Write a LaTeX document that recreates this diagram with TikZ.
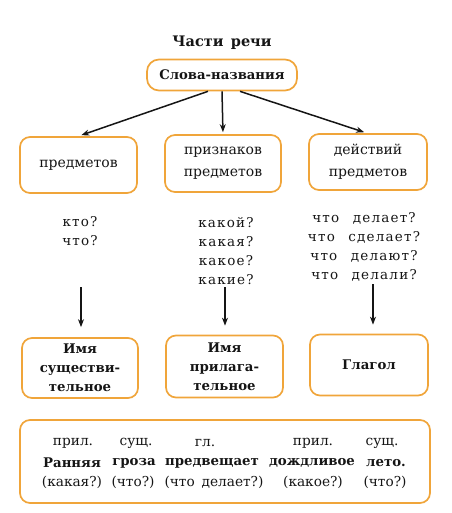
\documentclass[tikz,border=0pt]{standalone}
\usepackage{fontspec}
\setmainfont{DejaVu Serif}
\newfontfamily\spacedfont[LetterSpace=9]{DejaVu Serif}
\usetikzlibrary{arrows.meta}
\definecolor{frame}{HTML}{F0A53A}
\definecolor{ink}{HTML}{151515}
\tikzset{
  box/.style={draw=frame, line width=1.7pt, rounded corners=10pt, align=center, inner sep=2pt, text=ink, font=\fontsize{14}{22}\selectfont},
  qtext/.style={align=center, text=ink, font=\spacedfont\fontsize{13.5}{19}\selectfont},
  wlabel/.style={text=ink, font=\fontsize{13.7}{15}\selectfont, inner sep=1pt},
  wbold/.style={text=ink, font=\bfseries\fontsize{13.3}{15}\selectfont, inner sep=1pt},
  arr/.style={-{Stealth[length=8pt,width=6pt]}, line width=1.5pt, draw=ink},
}
\begin{document}
\begin{tikzpicture}[x=1pt,y=-1pt]
\useasboundingbox (0,0) rectangle (451,513);
\node[text=ink, font=\bfseries\fontsize{14.5}{16}\selectfont] (title) at (222,43) {Части\enspace речи};
\node[box, minimum width=150pt, minimum height=31pt, rounded corners=12pt, font=\bfseries\fontsize{13.2}{15}\selectfont] (top) at (222,75) {Слова-названия};
\node[box, minimum width=117pt, minimum height=56pt] (b1) at (78.5,165) {предметов};
\node[box, minimum width=116pt, minimum height=57pt] (b2) at (223,163.5) {признаков\\предметов};
\node[box, minimum width=118pt, minimum height=56pt] (b3) at (368,162) {действий\\предметов};
\draw[arr, shorten >=3pt] ([xshift=-14pt]top.south) -- (b1.north);
\draw[arr, shorten >=2pt] (top.south) -- (b2.north);
\draw[arr, shorten >=3pt] ([xshift=18pt]top.south) -- ([xshift=-1pt]b3.north);
\node[qtext] (q1) at (80,231) {кто?\\что?};
\node[qtext] (q2) at (226,251) {какой?\\какая?\\какое?\\какие?};
\node[qtext] (q3) at (364,247) {что\quad делает?\\что\quad сделает?\\что\quad делают?\\что\quad делали?};
\node[box, minimum width=116pt, minimum height=60pt, font=\bfseries\fontsize{13.3}{19}\selectfont] (b4) at (80,368) {Имя\\существи-\\тельное};
\node[box, minimum width=117pt, minimum height=62pt, font=\bfseries\fontsize{13.3}{19}\selectfont] (b5) at (224.5,366.5) {Имя\\прилага-\\тельное};
\node[box, minimum width=118pt, minimum height=61pt, font=\bfseries\fontsize{13.3}{19}\selectfont] (b6) at (369,365) {Глагол};
\coordinate (c1) at (81,287);
\coordinate (c2) at (225,287);
\coordinate (c3) at (373,284);
\draw[arr, shorten >=10pt] (c1) -- (c1 |- b4.north);
\draw[arr, shorten >=9pt] (c2) -- (c2 |- b5.north);
\draw[arr, shorten >=9pt] (c3) -- (c3 |- b6.north);
\node[box, minimum width=410pt, minimum height=83pt] (sent) at (225,461.5) {};
\node[wlabel] (l1) at (73,443) {прил.};
\node[wlabel] (l2) at (136,443) {сущ.};
\node[wlabel] (l3) at (205,443) {гл.};
\node[wlabel] (l4) at (313,443) {прил.};
\node[wlabel] (l5) at (382,443) {сущ.};
\node[wbold] (w1) at (72,463) {Ранняя};
\node[wbold] (w2) at (134,463) {гроза};
\node[wbold] (w3) at (212,463) {предвещает};
\node[wbold] (w4) at (312,463) {дождливое};
\node[wbold] (w5) at (386,463) {лето.};
\node[wlabel] (p1) at (72,482) {(какая?)};
\node[wlabel] (p2) at (133,482) {(что?)};
\node[wlabel] (p3) at (214,482) {(что\enspace делает?)};
\node[wlabel] (p4) at (313,482) {(какое?)};
\node[wlabel] (p5) at (385,482) {(что?)};
\end{tikzpicture}
\end{document}
